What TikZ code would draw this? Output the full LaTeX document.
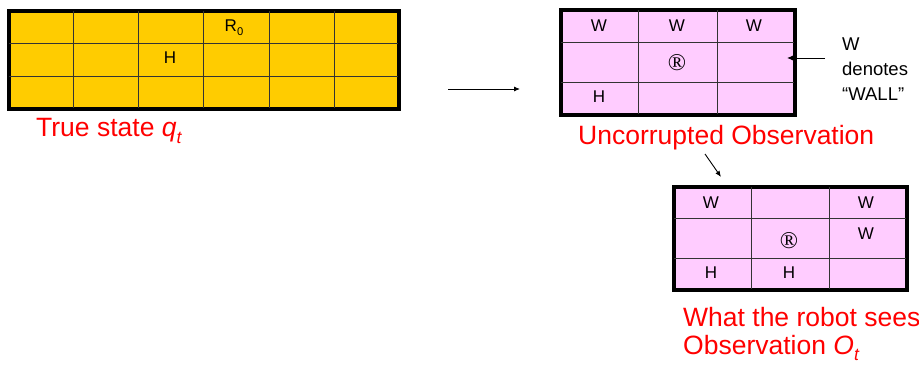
\documentclass[tikz,border=0pt]{standalone}
\usepackage{fontspec}
\setmainfont{Liberation Sans}
\newfontfamily\regfont{Liberation Serif}
\usepackage{xcolor}
\usetikzlibrary{positioning,arrows.meta,calc}

\definecolor{boardyellow}{HTML}{FFCC00}
\definecolor{boardpink}{HTML}{FFCCFF}
\newcommand{\lowsub}[1]{\raisebox{-0.45ex}{\scalebox{0.66}{#1}}}
\newcommand{\robotmark}{{\regfont\fontsize{24}{24}\selectfont ®}}

\begin{document}
\begin{tikzpicture}[x=1pt, y=-1pt, >={Latex[length=6pt,width=5pt]},
    every node/.style={inner sep=0pt, font=\fontsize{17}{18}\selectfont},
    board/.style={rectangle, draw=black, line width=2.6pt, anchor=north west},
    gridline/.style={draw=black!80, line width=1pt},
    caption/.style={text=red, font=\fontsize{26.5}{28}\selectfont, anchor=base west},
    note/.style={align=left, anchor=north west, font=\fontsize{18.5}{25}\selectfont}]
    \useasboundingbox (0,0) rectangle (919,366);
    % true state
    \node[board, fill=boardyellow, minimum width=389pt, minimum height=97pt] (truth) at (8,10) {};
    \foreach \i in {1,...,5}
        \draw[gridline] ($(truth.north west)!\i/6!(truth.north east)$) -- ($(truth.south west)!\i/6!(truth.south east)$);
    \foreach \i in {1,2}
        \draw[gridline] ($(truth.north west)!\i/3!(truth.south west)$) -- ($(truth.north east)!\i/3!(truth.south east)$);
    \draw[draw=black, line width=2.6pt] (truth.north west) rectangle (truth.south east);
    \node (robot0) at (234,28) {R\lowsub{0}};
    \node (home0) at (170,58) {H};
    \node[caption] (truelbl) at (36,137) {True state \textit{q}\lowsub{\textit{t}}};
    % uncorrupted observation
    \node[board, fill=boardpink, minimum width=233pt, minimum height=104pt] (clean) at (560,9) {};
    \foreach \i in {1,2}
        \draw[gridline] ($(clean.north west)!\i/3!(clean.north east)$) -- ($(clean.south west)!\i/3!(clean.south east)$);
    \foreach \f in {0.315,0.69}
        \draw[gridline] ($(clean.north west)!\f!(clean.south west)$) -- ($(clean.north east)!\f!(clean.south east)$);
    \draw[draw=black, line width=2.6pt] (clean.north west) rectangle (clean.south east);
    \node (wallA) at (599,26) {W};
    \node (wallB) at (677,26) {W};
    \node (wallC) at (754,26) {W};
    \node (robot1) at (677,63) {\robotmark};
    \node (home1) at (599,97) {H};
    \node[caption] (cleanlbl) at (578,145) {Uncorrupted Observation};
    \node[note] (wallnote) at (842,38) {W\\denotes\\“WALL”};
    % what the robot sees
    \node[board, fill=boardpink, minimum width=232pt, minimum height=102pt] (seen) at (673,186) {};
    \foreach \i in {1,2}
        \draw[gridline] ($(seen.north west)!\i/3!(seen.north east)$) -- ($(seen.south west)!\i/3!(seen.south east)$);
    \foreach \f in {0.315,0.695}
        \draw[gridline] ($(seen.north west)!\f!(seen.south west)$) -- ($(seen.north east)!\f!(seen.south east)$);
    \draw[draw=black, line width=2.6pt] (seen.north west) rectangle (seen.south east);
    \node (wallD) at (711,203) {W};
    \node (wallE) at (866,203) {W};
    \node (wallF) at (866,234) {W};
    \node (robot2) at (789,241) {\robotmark};
    \node (home2) at (711,273) {H};
    \node (home3) at (789,273) {H};
    \node[caption, align=left, anchor=north west, font=\fontsize{26.5}{28}\selectfont] (seenlbl) at (683,307)
        {What the robot sees\\Observation \textit{O}\lowsub{\textit{t}}};
    % arrows
    \coordinate (stepfrom) at (448,89);
    \coordinate (stepto) at (520,89);
    \coordinate (notefrom) at (825,58);
    \coordinate (noteto) at (787,58);
    \coordinate (noisefrom) at (705,154);
    \coordinate (noiseto) at (721,177);
    \draw[->, line width=0.9pt] (stepfrom) -- (stepto);
    \draw[->, line width=0.9pt] (notefrom) -- (noteto);
    \draw[->, line width=0.9pt] (noisefrom) -- (noiseto);
\end{tikzpicture}
\end{document}
